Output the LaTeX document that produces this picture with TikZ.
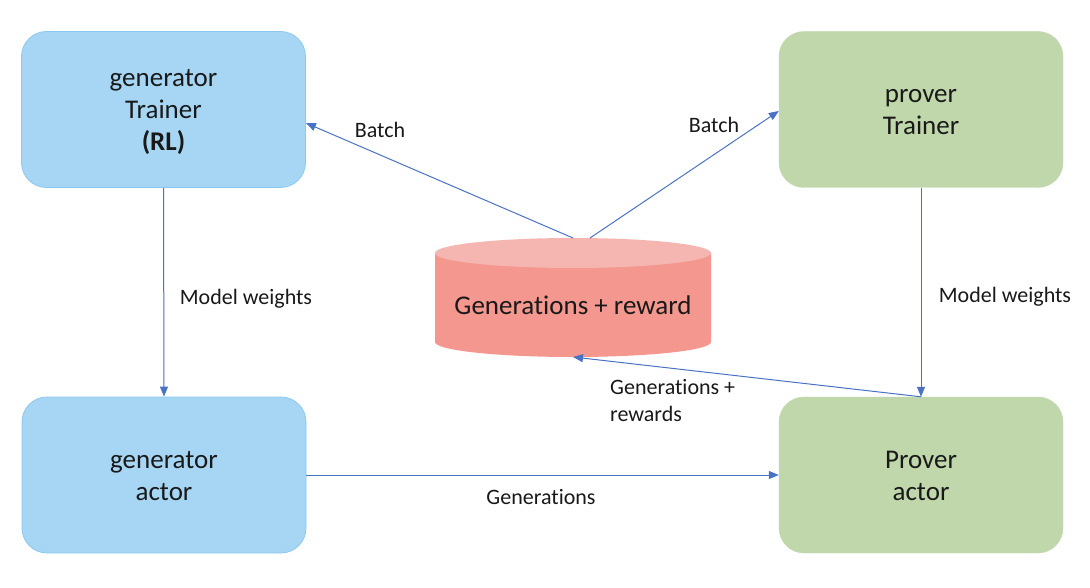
\documentclass[tikz,border=0pt]{standalone}
\usepackage{fontspec}
\setmainfont{Carlito}[RawFeature=-liga]
\usetikzlibrary{arrows.meta,shapes.geometric}
\definecolor{bluefill}{HTML}{A6D6F3}
\definecolor{blueedge}{HTML}{8CC8EE}
\definecolor{greenfill}{HTML}{BFD7AA}
\definecolor{cylside}{HTML}{F4978E}
\definecolor{cyltop}{HTML}{F5B6B2}
\definecolor{arrowblue}{HTML}{4A72C4}
\tikzset{
  boxnode/.style={rounded corners=25pt, minimum width=284pt, minimum height=156pt, inner sep=0pt},
  boxtext/.style={align=center, font=\fontsize{27pt}{32pt}\selectfont, text=black!90, inner sep=0pt},
  bluebox/.style={boxnode, fill=bluefill, draw=blueedge, line width=0.8pt},
  greenbox/.style={boxnode, fill=greenfill, draw=greenfill},
  conn/.style={draw=arrowblue, line width=1pt, -{Triangle[length=10pt,width=8pt]}},
  lbl/.style={font=\fontsize{22pt}{27pt}\selectfont, text=black!90, inner sep=0pt},
}
\begin{document}
\begin{tikzpicture}[x=1pt,y=-1pt]
\useasboundingbox (0,0) rectangle (1090,588);
% boxes
\node[bluebox] (gt) at (163.5,109.5) {};
\node[bluebox] (ga) at (164,475) {};
\node[greenbox] (pt) at (921,109.5) {};
\node[greenbox] (pa) at (921,475) {};
\node[boxtext] (gtt) at ([yshift=-3pt]gt.center) {generator\\Trainer\\\textbf{(RL)}};
\node[boxtext] (gat) at ([yshift=-1pt]ga.center) {generator\\actor};
\node[boxtext] (ptt) at ([yshift=-3pt]pt.center) {prover\\Trainer};
\node[boxtext] (pat) at ([yshift=-1pt]pa.center) {Prover\\actor};
% cylinder
\fill[cylside] (435,253) -- (435,342) arc[start angle=180,end angle=0,x radius=138,y radius=15] -- (711,253) -- cycle;
\fill[cyltop] (573,253) ellipse[x radius=138,y radius=15];
\node[boxtext] (db) at (573,305) {Generations + reward};
\coordinate (dbtopL) at (573,238);
\coordinate (dbtopR) at (590,238);
\coordinate (dbbot) at (573,357);
% connectors
\draw[conn] (dbtopL) -- (gt.east |- 0,123);
\draw[conn] (dbtopR) -- (pt.west |- 0,111);
\draw[conn] (gt.south) -- (ga.north);
\draw[conn] (pt.south) -- (pa.north);
\draw[conn] (pa.north) -- (dbbot);
\draw[conn] (ga.east) -- (pa.west);
% labels
\node[lbl] (l1) at (380,130) {Batch};
\node[lbl] (l2) at (714,125) {Batch};
\node[lbl] (l3) at (246,299) {Model weights};
\node[lbl] (l4) at (1005,297) {Model weights};
\node[lbl, align=left, anchor=north west] (l5) at (610,379) {Generations +\\rewards};
\node[lbl] (l6) at (541,497) {Generations};
\end{tikzpicture}
\end{document}
